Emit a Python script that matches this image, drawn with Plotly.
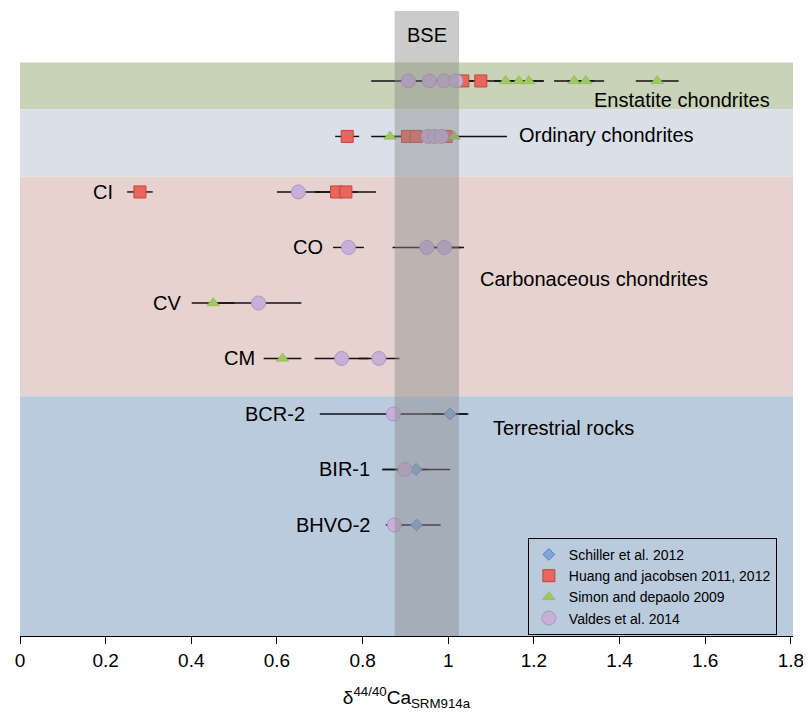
import plotly.graph_objects as go

# ---------------- data ----------------
rows = ["Enstatite", "Ordinary", "CI", "CO", "CV", "CM", "BCR-2", "BIR-1", "BHVO-2"]
row_labels = ["", "", "CI", "CO", "CV", "CM", "BCR-2", "BIR-1", "BHVO-2"]

schiller_rows = ["BCR-2", "BIR-1", "BHVO-2"]
schiller_val = [1.004, 0.925, 0.926]
schiller_err = [0.043, 0.079, 0.056]

huang_rows = ["Enstatite", "Enstatite", "Ordinary", "Ordinary", "Ordinary", "Ordinary", "CI", "CI", "CI"]
huang_val = [1.034, 1.076, 0.764, 0.905, 0.925, 0.995, 0.280, 0.739, 0.761]
huang_err = [0.025, 0.020, 0.028, 0.030, 0.030, 0.030, 0.030, 0.050, 0.070]

simon_rows = ["Enstatite"] * 6 + ["Ordinary", "Ordinary", "CV", "CM"]
simon_val = [1.134, 1.165, 1.188, 1.294, 1.321, 1.488, 0.864, 1.014, 0.451, 0.613]
simon_err = [0.039, 0.058, 0.035, 0.047, 0.043, 0.050, 0.044, 0.123, 0.050, 0.044]

valdes_rows = ["Enstatite"] * 4 + ["Ordinary"] * 3 + ["CI", "CO", "CO", "CO", "CV", "CM", "CM",
                                                      "BCR-2", "BIR-1", "BHVO-2"]
valdes_val = [0.907, 0.956, 0.990, 1.018, 0.953, 0.968, 0.984, 0.650, 0.767, 0.950, 0.991,
              0.557, 0.751, 0.838, 0.872, 0.899, 0.874]
valdes_err = [0.087, 0.040, 0.040, 0.040, 0.020, 0.020, 0.020, 0.050, 0.036, 0.080, 0.046,
              0.100, 0.063, 0.048, 0.172, 0.053, 0.020]

bse_range = [0.875, 1.025]
group_names = ["Enstatite chondrites", "Ordinary chondrites", "Carbonaceous chondrites", "Terrestrial rocks"]
x_ticks = [0, 0.2, 0.4, 0.6, 0.8, 1, 1.2, 1.4, 1.6, 1.8]

# ---------------- layout helpers ----------------
ROW_Y = {r: 10 - i for i, r in enumerate(rows)}
Y_TOP = 11.26
FONT = "Liberation Sans, Arial, sans-serif"

def ys(rlist):
    return [ROW_Y[r] for r in rlist]

fig = go.Figure()

# error bars first (beneath all markers)
all_rows = schiller_rows + huang_rows + simon_rows + valdes_rows
all_val = schiller_val + huang_val + simon_val + valdes_val
all_err = schiller_err + huang_err + simon_err + valdes_err
fig.add_trace(go.Scatter(
    x=all_val, y=ys(all_rows), mode="markers",
    marker=dict(size=1, opacity=0),
    error_x=dict(type="data", array=all_err, symmetric=True, color="#111111",
                 thickness=1.4, width=0),
    showlegend=False, hoverinfo="skip"))

styles = [
    ("Schiller et al. 2012", schiller_rows, schiller_val,
     dict(symbol="diamond", size=9, color="#7fa7d9", line=dict(color="#5a80b6", width=1))),
    ("Huang and jacobsen 2011, 2012", huang_rows, huang_val,
     dict(symbol="square", size=12, color="#e8665e", line=dict(color="#c4443d", width=1))),
    ("Simon and depaolo 2009", simon_rows, simon_val,
     dict(symbol="triangle-up", size=11, color="#9dc95e", line=dict(color="#88b24a", width=0.5))),
    ("Valdes et al. 2014", valdes_rows, valdes_val,
     dict(symbol="circle", size=14, color="#c6b0d8", line=dict(color="#a996c3", width=1))),
]
for name, r, v, mk in styles:
    fig.add_trace(go.Scatter(x=v, y=ys(r), mode="markers", name=name, marker=mk))

# background bands
bands = [
    (9.49, 10.33, "#c9d3b7"),
    (8.28, 9.49, "#dae0e9"),
    (4.32, 8.28, "#e6d3cf"),
    (0, 4.32, "#bacbdd"),
]
shapes = []
for y0, y1, c in bands:
    shapes.append(dict(type="rect", xref="x", yref="y", x0=0, x1=1.805, y0=y0, y1=y1,
                       fillcolor=c, line=dict(width=0), layer="below"))
shapes.append(dict(type="rect", xref="x", yref="y", x0=bse_range[0], x1=bse_range[1],
                   y0=0, y1=Y_TOP, fillcolor="rgba(140,140,140,0.45)",
                   line=dict(width=0), layer="above"))

annotations = []
label_x = {"CI": 0.222, "CO": 0.712, "CV": 0.381, "CM": 0.553,
           "BCR-2": 0.671, "BIR-1": 0.821, "BHVO-2": 0.823}
for r, lab in zip(rows, row_labels):
    if lab:
        annotations.append(dict(x=label_x[r], y=ROW_Y[r], text=lab, showarrow=False,
                                xanchor="right", yanchor="middle", xref="x", yref="y",
                                font=dict(size=20, family=FONT, color="black")))
group_pos = [(1.546, 9.66), (1.37, 9.03), (1.341, 6.43), (1.269, 3.75)]
for name, (gx, gy) in zip(group_names, group_pos):
    annotations.append(dict(x=gx, y=gy, text=name, showarrow=False, xanchor="center",
                            yanchor="middle", xref="x", yref="y",
                            font=dict(size=20, family=FONT, color="black")))
annotations.append(dict(x=sum(bse_range) / 2, y=10.83, text="BSE", showarrow=False,
                        xref="x", yref="y", font=dict(size=20, family=FONT, color="black")))

fig.update_layout(
    width=803, height=707,
    margin=dict(l=12, r=18, t=3, b=79),
    paper_bgcolor="white", plot_bgcolor="white",
    shapes=shapes, annotations=annotations,
    font=dict(family=FONT, color="black"),
    showlegend=True,
    legend=dict(x=0.657, y=0.157, xanchor="left", yanchor="top",
                bgcolor="rgba(0,0,0,0)", bordercolor="black", borderwidth=1,
                font=dict(size=14, family=FONT), itemsizing="trace", tracegroupgap=0),
    xaxis=dict(range=[0, 1.805], tickvals=x_ticks, ticktext=[f"{t:g}" for t in x_ticks],
               automargin=False,
               showgrid=False, zeroline=False, showline=True, linecolor="black",
               ticks="outside", ticklen=7, tickcolor="black",
               tickfont=dict(size=19, family="Liberation Sans Narrow, " + FONT),
               title=dict(text="δ<sup>44/40</sup>Ca<sub>SRM914a</sub>",
                          font=dict(size=19, family=FONT), standoff=20)),
    yaxis=dict(range=[0, Y_TOP], visible=False, fixedrange=True, automargin=False),
)

fig.write_html("out.html")
